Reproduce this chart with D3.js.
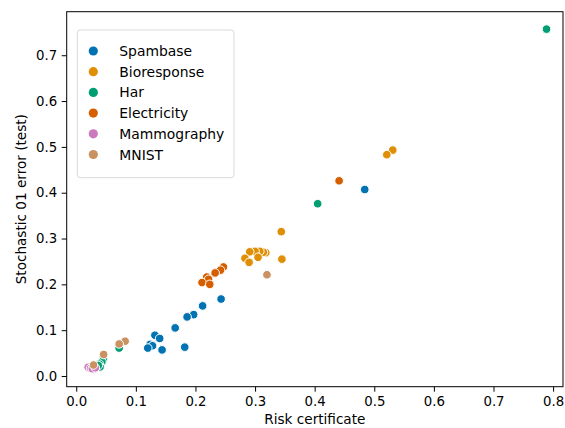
<!DOCTYPE html>
<head>
<meta charset="utf-8">
<script src="https://d3js.org/d3.v7.min.js"></script>
</head>
<style>
  body { margin: 0; background: #fff; }
  text { font-family: "DejaVu Sans", sans-serif; fill: #000; }
</style>
<body>
<svg id="chart" width="565" height="428"></svg>
<script>
// datasets, in drawing order
const datasets = ["Spambase", "Bioresponse", "Har", "Electricity", "Mammography", "MNIST"];
const colors = ["#0173b2", "#de8f05", "#029e73", "#d55e00", "#cc78bc", "#ca9161"];

// [risk certificate, stochastic 01 error] per dataset
const spambase = [[0.484, 0.407], [0.243, 0.168], [0.212, 0.153], [0.197, 0.134], [0.186, 0.129],
  [0.166, 0.105], [0.132, 0.089], [0.140, 0.082], [0.124, 0.069], [0.128, 0.066],
  [0.120, 0.061], [0.144, 0.057], [0.182, 0.063]];
const bioresponse = [[0.531, 0.493], [0.521, 0.483], [0.344, 0.315], [0.345, 0.255],
  [0.318, 0.269], [0.314, 0.270], [0.308, 0.272], [0.300, 0.272], [0.291, 0.271],
  [0.305, 0.259], [0.283, 0.257], [0.290, 0.248]];
const har = [[0.789, 0.757], [0.405, 0.376], [0.072, 0.061], [0.045, 0.036], [0.043, 0.031],
  [0.039, 0.026], [0.040, 0.020], [0.037, 0.023]];
const electricity = [[0.441, 0.426], [0.247, 0.238], [0.242, 0.231], [0.233, 0.225],
  [0.219, 0.216], [0.222, 0.211], [0.211, 0.204], [0.224, 0.200]];
const mammography = [[0.020, 0.019], [0.024, 0.017], [0.029, 0.015], [0.027, 0.016], [0.032, 0.018]];
const mnist = [[0.320, 0.221], [0.082, 0.076], [0.072, 0.070], [0.046, 0.047], [0.029, 0.024]];

const series = [spambase, bioresponse, har, electricity, mammography, mnist];
const xTicks = [0.0, 0.1, 0.2, 0.3, 0.4, 0.5, 0.6, 0.7, 0.8];
const yTicks = [0.0, 0.1, 0.2, 0.3, 0.4, 0.5, 0.6, 0.7];

const svg = d3.select("#chart");
const plotLeft = 66.7, plotRight = 563, plotTop = 11.7, plotBottom = 386.7;

const x = d3.scaleLinear().domain([-0.016, 0.8166]).range([plotLeft, plotRight]);
const y = d3.scaleLinear().domain([-0.0233, 0.795]).range([plotBottom, plotTop]);

// points
const points = [];
series.forEach((s, i) => s.forEach(d => points.push({x: d[0], y: d[1], k: i})));

svg.append("g")
  .selectAll("circle")
  .data(points)
  .join("circle")
    .attr("cx", d => x(d.x))
    .attr("cy", d => y(d.y))
    .attr("r", 4.3)
    .attr("fill", d => colors[d.k])
    .attr("stroke", "#fff")
    .attr("stroke-width", 1);

// axes
const xAxis = svg.append("g")
  .attr("transform", `translate(0,${plotBottom})`)
  .call(d3.axisBottom(x).tickValues(xTicks).tickFormat(d3.format(".1f")).tickSize(5).tickPadding(5).tickSizeOuter(0));
const yAxis = svg.append("g")
  .attr("transform", `translate(${plotLeft},0)`)
  .call(d3.axisLeft(y).tickValues(yTicks).tickFormat(d3.format(".1f")).tickSize(5).tickPadding(4.5).tickSizeOuter(0));

[xAxis, yAxis].forEach(g => {
  g.select(".domain").remove();
  g.selectAll("line").attr("stroke", "#000").attr("stroke-width", 1);
  g.selectAll("text").style("font-size", "13.3px").style("font-family", "DejaVu Sans");
});

// frame
svg.append("rect")
  .attr("x", plotLeft).attr("y", plotTop)
  .attr("width", plotRight - plotLeft).attr("height", plotBottom - plotTop)
  .attr("fill", "none").attr("stroke", "#000").attr("stroke-width", 1);

// labels
svg.append("text")
  .attr("x", (plotLeft + plotRight) / 2).attr("y", 424)
  .attr("text-anchor", "middle")
  .style("font-size", "13.6px")
  .text("Risk certificate");

svg.append("text")
  .attr("transform", `translate(26,${(plotTop + plotBottom) / 2}) rotate(-90)`)
  .attr("text-anchor", "middle")
  .style("font-size", "13.6px")
  .text("Stochastic 01 error (test)");

// legend
const legend = svg.append("g");
legend.append("rect")
  .attr("x", 77.3).attr("y", 30)
  .attr("width", 156.7).attr("height", 147.7)
  .attr("rx", 3)
  .attr("fill", "#fff").attr("fill-opacity", 0.8)
  .attr("stroke", "#d9d9d9").attr("stroke-width", 1);

const rows = legend.selectAll("g.row")
  .data(datasets)
  .join("g")
    .attr("class", "row")
    .attr("transform", (d, i) => `translate(0,${51 + i * 20.7})`);

rows.append("circle")
  .attr("cx", 93.3).attr("cy", 0).attr("r", 4.6)
  .attr("fill", (d, i) => colors[i]);

rows.append("text")
  .attr("x", 119.3).attr("y", 0).attr("dy", "0.36em")
  .style("font-size", "13.9px")
  .text(d => d);
</script>
</body>
